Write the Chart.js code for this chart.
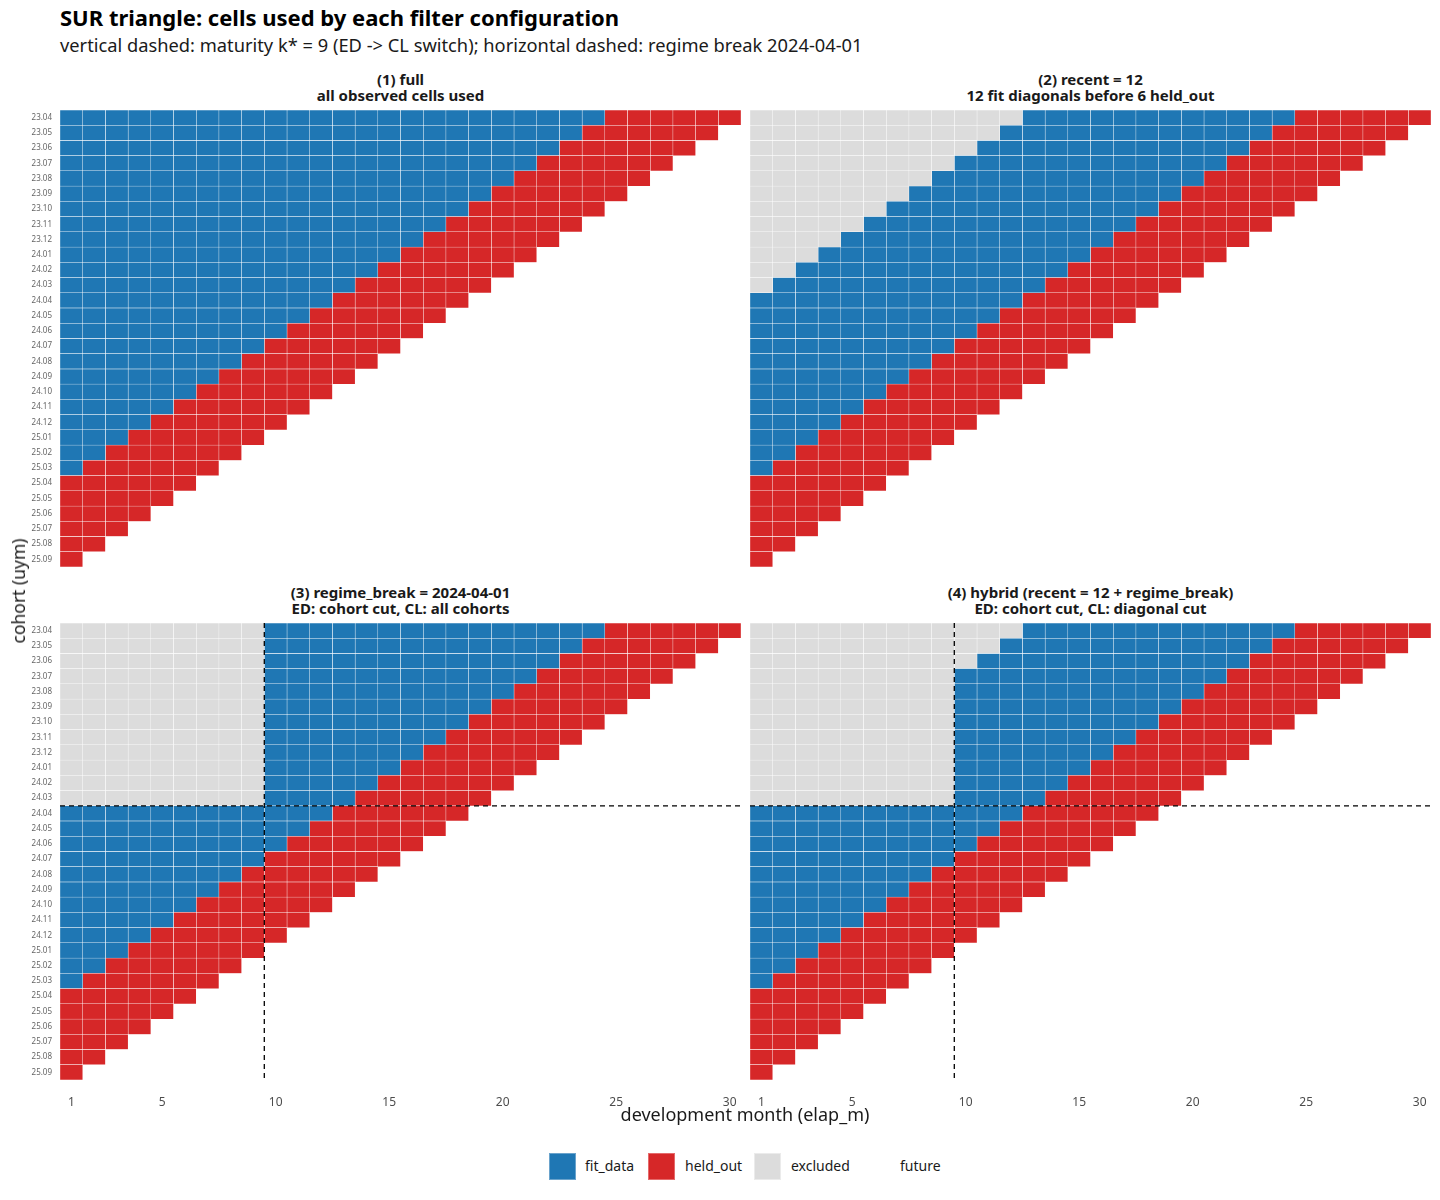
<!DOCTYPE html>
<html>
<head>
<meta charset="utf-8">
<title>SUR triangle</title>
<script src="https://cdn.jsdelivr.net/npm/chart.js@4.4.1/dist/chart.umd.min.js"></script>
<style>
  html, body { margin: 0; padding: 0; background: #ffffff; }
  body { font-family: 'Noto Sans', 'Open Sans', sans-serif; color: #1a1a1a; }
  #page { position: relative; width: 1440px; height: 1200px; overflow: hidden; }
  .abs { position: absolute; white-space: nowrap; }
  #title { left: 60px; top: 3px; font-size: 22px; font-weight: bold; line-height: 28px; color: #000; }
  #subtitle { left: 60px; top: 33px; font-size: 18.3px; line-height: 24px; }
  .strip { font-size: 15px; font-weight: bold; line-height: 16px; text-align: center; width: 681px; }
  canvas { position: absolute; }
  #xtitle { left: 0; width: 1490px; top: 1102px; font-size: 18px; line-height: 24px; text-align: center; }
  #ytitle { left: 18px; top: 591px; font-size: 17.5px; line-height: 22px; transform: translate(-50%, -50%) rotate(-90deg); }
  .key { position: absolute; top: 1153px; width: 27px; height: 27px; box-sizing: border-box; }
  .klab { position: absolute; top: 1156px; font-size: 14px; line-height: 20px; }
</style>
</head>
<body>
<div id="page">
  <div id="title" class="abs">SUR triangle: cells used by each filter configuration</div>
  <div id="subtitle" class="abs">vertical dashed: maturity k* = 9 (ED -&gt; CL switch); horizontal dashed: regime break 2024-04-01</div>

  <div class="abs strip" style="left:60px; top:71px;">(1) full<br>all observed cells used</div>
  <div class="abs strip" style="left:750px; top:71px;">(2) recent = 12<br>12 fit diagonals before 6 held_out</div>
  <div class="abs strip" style="left:60px; top:584px;">(3) regime_break = 2024-04-01<br>ED: cohort cut, CL: all cohorts</div>
  <div class="abs strip" style="left:750px; top:584px;">(4) hybrid (recent = 12 + regime_break)<br>ED: cohort cut, CL: diagonal cut</div>

  <canvas id="p1" width="721" height="457" style="left:20px; top:110px;"></canvas>
  <canvas id="p2" width="681" height="457" style="left:750px; top:110px;"></canvas>
  <canvas id="p3" width="721" height="485" style="left:20px; top:623px;"></canvas>
  <canvas id="p4" width="681" height="485" style="left:750px; top:623px;"></canvas>

  <div id="xtitle" class="abs">development month (elap_m)</div>
  <div id="ytitle" class="abs">cohort (uym)</div>

  <div class="key" style="left:549px; background:#1f77b4; border:1px solid #6aa3cc;"></div>
  <div class="klab" style="left:585px;">fit_data</div>
  <div class="key" style="left:648px; background:#d62728; border:1px solid #e56a6b;"></div>
  <div class="klab" style="left:685px;">held_out</div>
  <div class="key" style="left:754px; background:#dcdcdc; border:1px solid #ebebeb;"></div>
  <div class="klab" style="left:791px;">excluded</div>
  <div class="key" style="left:864px; background:#ffffff;"></div>
  <div class="klab" style="left:900px;">future</div>
</div>

<script>
// ============ DATA ============
const COHORTS = [
  '23.04', '23.05', '23.06', '23.07', '23.08', '23.09', '23.10', '23.11', '23.12',
  '24.01', '24.02', '24.03', '24.04', '24.05', '24.06', '24.07', '24.08', '24.09',
  '24.10', '24.11', '24.12', '25.01', '25.02', '25.03', '25.04', '25.05', '25.06',
  '25.07', '25.08', '25.09'
];
const DEV_MONTHS = [1, 2, 3, 4, 5, 6, 7, 8, 9, 10, 11, 12, 13, 14, 15, 16, 17, 18, 19, 20,
  21, 22, 23, 24, 25, 26, 27, 28, 29, 30];
const X_TICKS = [1, 5, 10, 15, 20, 25, 30];

// cells per cohort row, left to right: excluded, then fit_data, then held_out
const HELD_ALL = [6, 6, 6, 6, 6, 6, 6, 6, 6, 6, 6, 6, 6, 6, 6, 6, 6, 6, 6, 6, 6, 6, 6, 6, 6, 5, 4, 3, 2, 1];

const EXCL_FULL = [0, 0, 0, 0, 0, 0, 0, 0, 0, 0, 0, 0, 0, 0, 0, 0, 0, 0, 0, 0, 0, 0, 0, 0, 0, 0, 0, 0, 0, 0];
const FIT_FULL = [24, 23, 22, 21, 20, 19, 18, 17, 16, 15, 14, 13, 12, 11, 10, 9, 8, 7, 6, 5, 4, 3, 2, 1, 0, 0, 0, 0, 0, 0];

const EXCL_RECENT = [12, 11, 10, 9, 8, 7, 6, 5, 4, 3, 2, 1, 0, 0, 0, 0, 0, 0, 0, 0, 0, 0, 0, 0, 0, 0, 0, 0, 0, 0];
const FIT_RECENT = [12, 12, 12, 12, 12, 12, 12, 12, 12, 12, 12, 12, 12, 11, 10, 9, 8, 7, 6, 5, 4, 3, 2, 1, 0, 0, 0, 0, 0, 0];

const EXCL_REGIME = [9, 9, 9, 9, 9, 9, 9, 9, 9, 9, 9, 9, 0, 0, 0, 0, 0, 0, 0, 0, 0, 0, 0, 0, 0, 0, 0, 0, 0, 0];
const FIT_REGIME = [15, 14, 13, 12, 11, 10, 9, 8, 7, 6, 5, 4, 12, 11, 10, 9, 8, 7, 6, 5, 4, 3, 2, 1, 0, 0, 0, 0, 0, 0];

const EXCL_HYBRID = [12, 11, 10, 9, 9, 9, 9, 9, 9, 9, 9, 9, 0, 0, 0, 0, 0, 0, 0, 0, 0, 0, 0, 0, 0, 0, 0, 0, 0, 0];
const FIT_HYBRID = [12, 12, 12, 12, 11, 10, 9, 8, 7, 6, 5, 4, 12, 11, 10, 9, 8, 7, 6, 5, 4, 3, 2, 1, 0, 0, 0, 0, 0, 0];

const K_STAR = 9;            // maturity (ED -> CL switch)
const BREAK_COHORT = '24.04'; // regime break 2024-04-01

// ============ STYLE ============
const BLUE = '#1f77b4';
const RED = '#d62728';
const GREY = '#dcdcdc';
const TICK = '#4d4d4d';
const FONT = "'Noto Sans', 'Open Sans', sans-serif";

Chart.defaults.font.family = FONT;
Chart.defaults.animation = false;

function cellColor(excl, fit, held, i, d) {
  if (d <= excl[i]) return GREY;
  if (d <= excl[i] + fit[i]) return BLUE;
  return RED;
}

// dashed reference lines (maturity and regime break)
const dashedLines = {
  id: 'dashedLines',
  afterDatasetsDraw(chart, args, opts) {
    if (!opts.show) return;
    const { ctx, chartArea: a, scales: { x, y } } = chart;
    const xv = x.getPixelForValue(K_STAR + 0.5);
    const yv = y.getPixelForValue(COHORTS.indexOf(BREAK_COHORT) - 0.5);
    ctx.save();
    ctx.strokeStyle = '#000000';
    ctx.lineWidth = 1.3;
    ctx.setLineDash([5, 4]);
    ctx.beginPath();
    ctx.moveTo(xv, a.top);
    ctx.lineTo(xv, a.bottom + 2);
    ctx.moveTo(a.left, yv);
    ctx.lineTo(a.right, yv);
    ctx.stroke();
    ctx.restore();
  }
};

function makePanel(id, excl, fit, held, opts) {
  const datasets = DEV_MONTHS.map(function (d) {
    return {
      label: 'dev ' + d,
      data: COHORTS.map(function (c, i) {
        return d <= excl[i] + fit[i] + held[i] ? [d - 0.5, d + 0.5] : null;
      }),
      backgroundColor: COHORTS.map(function (c, i) { return cellColor(excl, fit, held, i, d); }),
      borderColor: '#ffffff',
      borderWidth: 0.5,
      borderSkipped: false,
      grouped: false,
      categoryPercentage: 1,
      barPercentage: 1
    };
  });

  new Chart(document.getElementById(id), {
    type: 'bar',
    data: { labels: COHORTS, datasets: datasets },
    options: {
      indexAxis: 'y',
      responsive: false,
      devicePixelRatio: 1,
      layout: { padding: 0 },
      plugins: {
        legend: { display: false },
        tooltip: { enabled: false },
        dashedLines: { show: opts.dashed }
      },
      scales: {
        x: {
          type: 'linear',
          display: opts.showX,
          min: 0.5,
          max: 30.5,
          grid: { display: false },
          border: { display: false },
          afterBuildTicks: function (scale) {
            scale.ticks = X_TICKS.map(function (v) { return { value: v }; });
          },
          afterFit: function (scale) {
            scale.height = opts.showX ? 28 : 0;
            scale.paddingLeft = 0;
            scale.paddingRight = 0;
          },
          ticks: { color: TICK, font: { size: 12 }, padding: 7, maxRotation: 0 }
        },
        y: {
          type: 'category',
          display: opts.showY,
          offset: true,
          grid: { display: false, drawTicks: false },
          border: { display: false },
          afterFit: function (scale) {
            scale.width = opts.showY ? 40 : 0;
            scale.paddingTop = 0;
            scale.paddingBottom = 0;
          },
          ticks: { color: '#666666', font: { size: 8 }, padding: 8, autoSkip: false }
        }
      }
    },
    plugins: [dashedLines]
  });
}

makePanel('p1', EXCL_FULL, FIT_FULL, HELD_ALL, { showX: false, showY: true, dashed: false });
makePanel('p2', EXCL_RECENT, FIT_RECENT, HELD_ALL, { showX: false, showY: false, dashed: false });
makePanel('p3', EXCL_REGIME, FIT_REGIME, HELD_ALL, { showX: true, showY: true, dashed: true });
makePanel('p4', EXCL_HYBRID, FIT_HYBRID, HELD_ALL, { showX: true, showY: false, dashed: true });
</script>
</body>
</html>
